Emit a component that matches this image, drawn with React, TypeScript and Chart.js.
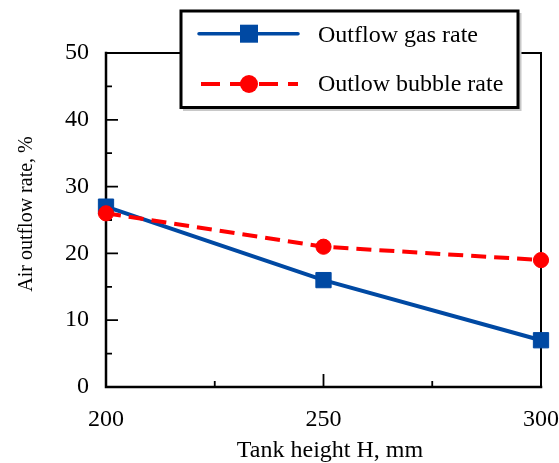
import React, { useEffect, useRef } from "react";
import { Chart, registerables } from "chart.js";

Chart.register(...registerables);

// Tank height (mm) and measured outflow rates (%)
const tankHeights = [200, 250, 300];
const gasRate = [27, 16, 7];
const bubbleRate = [26, 21, 19];

const xTicks = [200, 250, 300];
const xMinorTicks = [225, 275];
const yTicks = [0, 10, 20, 30, 40, 50];
const yMinorTicks = [5, 15, 25, 35, 45];

const seriesNames = ["Outflow gas rate", "Outlow bubble rate"];
const xTitle = "Tank height H, mm";
const yTitle = "Air outflow rate, %";

const SERIF = "'Liberation Serif', 'Times New Roman', Times, serif";
const BLUE = "#0049A3";
const RED = "#FF0000";

const framePlugin = {
  id: "frameAndTicks",
  beforeDatasetsDraw(chart: any) {
    const { ctx, chartArea: a, scales } = chart;
    const xs = scales.x;
    const ys = scales.y;
    ctx.save();
    ctx.strokeStyle = "#000";
    ctx.lineCap = "square";

    // top and right edges of the frame
    ctx.lineWidth = 2;
    ctx.beginPath();
    ctx.moveTo(a.left, a.top);
    ctx.lineTo(a.right, a.top);
    ctx.lineTo(a.right, a.bottom);
    ctx.stroke();

    // axis lines
    ctx.lineWidth = 2.5;
    ctx.beginPath();
    ctx.moveTo(a.left, a.top);
    ctx.lineTo(a.left, a.bottom);
    ctx.lineTo(a.right, a.bottom);
    ctx.stroke();

    // inward tick marks
    ctx.lineCap = "butt";
    ctx.lineWidth = 1.8;
    ctx.beginPath();
    yTicks.forEach((v) => {
      const y = ys.getPixelForValue(v);
      ctx.moveTo(a.left, y);
      ctx.lineTo(a.left + 12, y);
    });
    yMinorTicks.forEach((v) => {
      const y = ys.getPixelForValue(v);
      ctx.moveTo(a.left, y);
      ctx.lineTo(a.left + 6, y);
    });
    xTicks.forEach((v) => {
      const x = xs.getPixelForValue(v);
      ctx.moveTo(x, a.bottom);
      ctx.lineTo(x, a.bottom - 13);
    });
    xMinorTicks.forEach((v) => {
      const x = xs.getPixelForValue(v);
      ctx.moveTo(x, a.bottom);
      ctx.lineTo(x, a.bottom - 6);
    });
    ctx.stroke();
    ctx.restore();
  },
  afterDraw(chart: any) {
    const { ctx } = chart;
    ctx.save();
    ctx.fillStyle = "#000";

    // axis titles
    ctx.font = `24px ${SERIF}`;
    ctx.textAlign = "center";
    ctx.textBaseline = "alphabetic";
    ctx.fillText(xTitle, 330, 457);

    ctx.save();
    ctx.translate(31.5, 214);
    ctx.rotate(-Math.PI / 2);
    ctx.font = `20px ${SERIF}`;
    ctx.fillText(yTitle, 0, 0);
    ctx.restore();

    // legend box
    const bx = 181, by = 11, bw = 337, bh = 96.5;
    ctx.fillStyle = "#c8c8c8";
    ctx.fillRect(bx + 2, by + 2, bw + 1.5, bh + 1.5);
    ctx.fillStyle = "#fff";
    ctx.fillRect(bx, by, bw, bh);
    ctx.strokeStyle = "#000";
    ctx.lineWidth = 3;
    ctx.strokeRect(bx, by, bw, bh);

    // legend entry: gas rate
    ctx.strokeStyle = BLUE;
    ctx.lineWidth = 3.5;
    ctx.lineCap = "round";
    ctx.beginPath();
    ctx.moveTo(199, 33.7);
    ctx.lineTo(298, 33.7);
    ctx.stroke();
    ctx.fillStyle = BLUE;
    ctx.fillRect(249 - 9, 33.7 - 9, 18, 18);

    // legend entry: bubble rate
    ctx.strokeStyle = RED;
    ctx.lineWidth = 4;
    ctx.lineCap = "butt";
    ctx.setLineDash([19, 10]);
    ctx.beginPath();
    ctx.moveTo(201, 84);
    ctx.lineTo(298, 84);
    ctx.stroke();
    ctx.setLineDash([]);
    ctx.fillStyle = RED;
    ctx.beginPath();
    ctx.arc(249, 84, 9, 0, Math.PI * 2);
    ctx.fill();

    ctx.fillStyle = "#000";
    ctx.font = `24px ${SERIF}`;
    ctx.textAlign = "left";
    ctx.fillText(seriesNames[0], 318, 42);
    ctx.fillText(seriesNames[1], 318, 91);
    ctx.restore();
  },
};

export default function App() {
  const canvasRef = useRef<HTMLCanvasElement | null>(null);

  useEffect(() => {
    const canvas = canvasRef.current;
    if (!canvas) return;

    const tickFont = { family: SERIF, size: 24 };
    const zeroPadding = (s: any) => {
      s.paddingLeft = 0;
      s.paddingRight = 0;
      s.paddingTop = 0;
      s.paddingBottom = 0;
    };

    const chart = new Chart(canvas, {
      type: "line",
      data: {
        datasets: [
          {
            label: seriesNames[0],
            data: tankHeights.map((x, i) => ({ x, y: gasRate[i] })),
            borderColor: BLUE,
            backgroundColor: BLUE,
            borderWidth: 4,
            pointStyle: "rect",
            pointRadius: 10.8,
            pointBorderWidth: 1,
            pointBackgroundColor: BLUE,
            pointBorderColor: BLUE,
            tension: 0,
            clip: false as any,
            order: 2,
          },
          {
            label: seriesNames[1],
            data: tankHeights.map((x, i) => ({ x, y: bubbleRate[i] })),
            borderColor: RED,
            backgroundColor: RED,
            borderWidth: 4,
            borderDash: [15, 8],
            pointStyle: "circle",
            pointRadius: 7.6,
            pointBorderWidth: 1,
            pointBackgroundColor: RED,
            pointBorderColor: RED,
            tension: 0,
            clip: false as any,
            order: 1,
          },
        ],
      },
      options: {
        animation: false,
        responsive: false,
        devicePixelRatio: 1,
        layout: { padding: { left: 0, top: 53, right: 18, bottom: 0 } },
        plugins: {
          legend: { display: false },
          tooltip: { enabled: false },
        },
        scales: {
          x: {
            type: "linear",
            min: 200,
            max: 300,
            afterBuildTicks: (s: any) => {
              s.ticks = xTicks.map((value) => ({ value }));
            },
            afterFit: (s: any) => {
              s.height = 76;
              zeroPadding(s);
            },
            grid: { display: false, drawTicks: false },
            border: { display: false },
            ticks: {
              font: tickFont,
              color: "#000",
              padding: 18,
              maxRotation: 0,
              autoSkip: false,
            },
          },
          y: {
            type: "linear",
            min: 0,
            max: 50,
            afterBuildTicks: (s: any) => {
              s.ticks = yTicks.map((value) => ({ value }));
            },
            afterFit: (s: any) => {
              s.width = 106;
              zeroPadding(s);
            },
            grid: { display: false, drawTicks: false },
            border: { display: false },
            ticks: {
              font: tickFont,
              color: "#000",
              padding: 17,
              autoSkip: false,
            },
          },
        },
      },
      plugins: [framePlugin],
    });

    return () => chart.destroy();
  }, []);

  return (
    <div
      style={{
        position: "fixed",
        left: 0,
        top: 0,
        width: 559,
        height: 463,
        background: "#fff",
      }}
    >
      <canvas ref={canvasRef} width={559} height={463} />
    </div>
  );
}
